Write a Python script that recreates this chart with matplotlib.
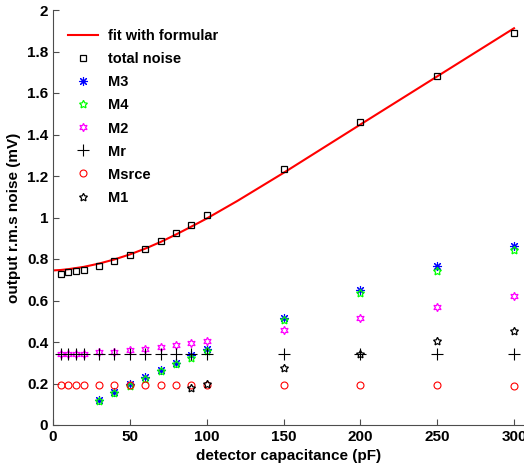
import numpy as np
import matplotlib.pyplot as plt

# detector capacitance (pF)
cap = [5, 10, 15, 20, 30, 40, 50, 60, 70, 80, 90, 100, 150, 200, 250, 300]
cap_hi = [30, 40, 50, 60, 70, 80, 90, 100, 150, 200, 250, 300]
cap_m1 = [90, 100, 150, 200, 250, 300]

# fitted curve
fit_x = [0, 5, 10, 20, 30, 40, 50, 60, 70, 80, 90, 100, 120, 150, 200, 250, 300]
fit_y = [0.745, 0.747, 0.751, 0.762, 0.778, 0.798, 0.822, 0.850, 0.882, 0.918,
         0.956, 0.995, 1.080, 1.215, 1.448, 1.680, 1.912]

total = [0.730, 0.735, 0.740, 0.745, 0.765, 0.790, 0.820, 0.850, 0.885, 0.925,
         0.965, 1.010, 1.235, 1.460, 1.680, 1.890]
m3 = [0.122, 0.160, 0.198, 0.230, 0.265, 0.300, 0.335, 0.365, 0.515, 0.650, 0.765, 0.865]
m4 = [0.115, 0.155, 0.190, 0.222, 0.258, 0.294, 0.325, 0.355, 0.505, 0.635, 0.740, 0.845]
m2 = [0.340, 0.340, 0.340, 0.340, 0.350, 0.352, 0.360, 0.366, 0.376, 0.386,
      0.396, 0.406, 0.460, 0.518, 0.570, 0.620]
mr = [0.340] * 16
msrce = [0.195, 0.195, 0.195, 0.195, 0.195, 0.195, 0.195, 0.195, 0.195, 0.195,
         0.195, 0.195, 0.195, 0.194, 0.193, 0.190]
m1 = [0.180, 0.196, 0.275, 0.340, 0.405, 0.455]

plt.rcParams['font.family'] = ['Liberation Sans', 'DejaVu Sans']
plt.rcParams['font.weight'] = 'bold'

fig = plt.figure(figsize=(5.24, 4.75), dpi=100)
ax = fig.add_axes([53 / 524, 50 / 475, 471 / 524, 415 / 475])

ms = 5
ax.plot(fit_x, fit_y, color='red', lw=1.5, label='fit with formular')
ax.plot(cap, total, 's', mfc='none', mec='black', ms=4.8, mew=0.9, label='total noise')
ax.plot(cap_hi, m3, ls='none', marker=(8, 2, 0), color='blue', ms=ms + 1.5, mew=0.8, label='M3')
ax.plot(cap_hi, m4, ls='none', marker=(5, 1, 0), mfc='none', mec=(0, 1, 0), ms=ms + 1, mew=0.9, label='M4')
ax.plot(cap, m2, ls='none', marker=(6, 1, 0), mfc='none', mec='magenta', ms=ms + 1, mew=0.9, label='M2')
ax.plot(cap, mr, '+', color='black', ms=ms + 3, mew=0.8, label='Mr')
ax.plot(cap, msrce, 'o', mfc='none', mec='red', ms=ms, mew=0.8, label='Msrce')
ax.plot(cap_m1, m1, ls='none', marker=(5, 1, 0), mfc='none', mec='black', ms=ms + 1, mew=0.9, label='M1')

ax.set_xlim(0, 306.5)
ax.set_ylim(0, 2)
ax.set_xticks(np.arange(0, 301, 50))
yt = np.arange(0, 2.01, 0.2)
ax.set_yticks(yt)
ax.set_yticklabels([f'{v:g}' for v in np.round(yt, 1)])
ax.tick_params(direction='in', length=4, labelsize=11, color='0.3')
for lab in ax.get_xticklabels() + ax.get_yticklabels():
    lab.set_fontweight('bold')

ax.spines['top'].set_visible(False)
ax.spines['right'].set_visible(False)
ax.spines['left'].set_color('0.3')
ax.spines['bottom'].set_color('0.3')

ax.set_xlabel('detector capacitance (pF)', fontsize=11, fontweight='bold')
ax.set_ylabel('output r.m.s noise (mV)', fontsize=11, fontweight='bold')

leg = ax.legend(loc='upper left', frameon=False, fontsize=10.5, handlelength=2.0,
                handletextpad=0.7, labelspacing=0.62, bbox_to_anchor=(0.005, 0.985))
for t in leg.get_texts():
    t.set_fontweight('bold')

fig.savefig('out.png', dpi=100)
